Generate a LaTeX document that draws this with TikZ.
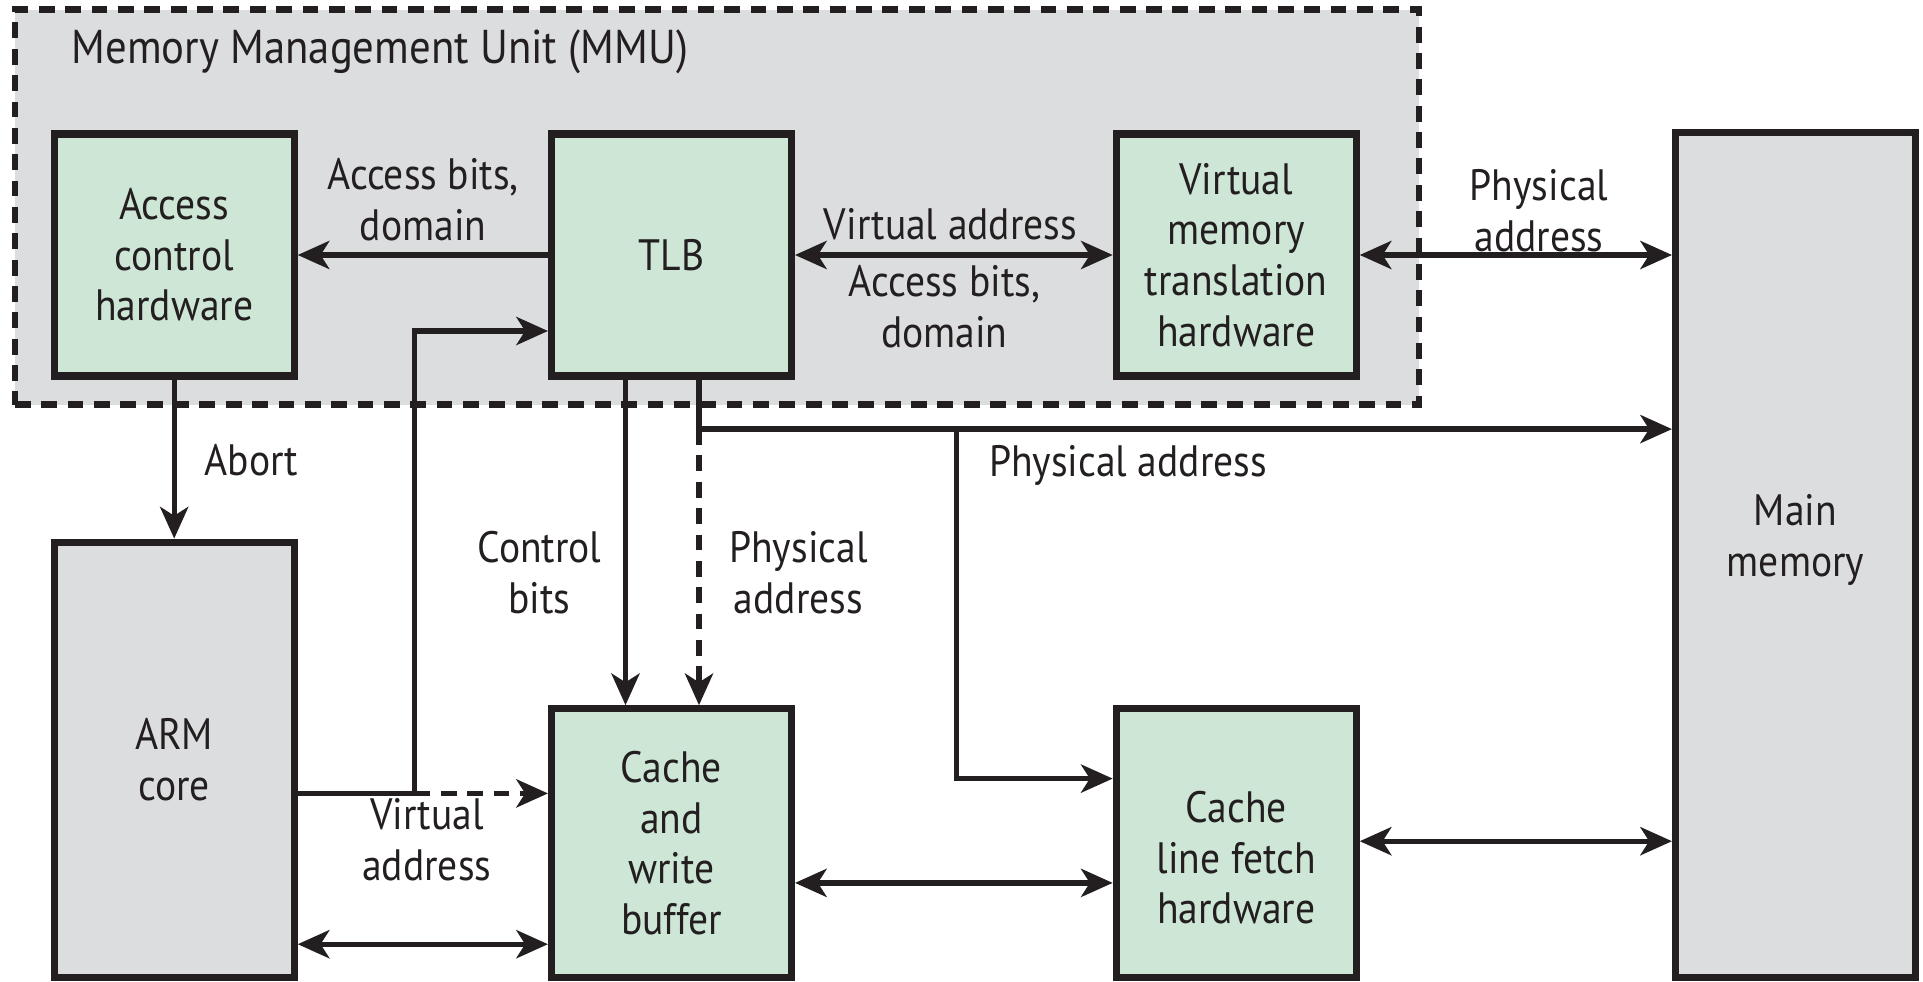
\documentclass[tikz,border=0pt]{standalone}
\usepackage{fontspec}
\setmainfont{PT Sans}[FakeStretch=0.9]
\usetikzlibrary{arrows.meta}
\definecolor{boxgreen}{RGB}{205,230,213}
\definecolor{boxgray}{RGB}{220,221,223}
\definecolor{ink}{RGB}{35,31,32}
\tikzset{
  hw/.style={draw=ink, line width=2pt, fill=boxgreen, align=center, text=ink,
    minimum width=2.4cm, minimum height=2.42cm, inner sep=2pt},
  store/.style={hw, fill=boxgray},
  lbl/.style={align=center, text=ink, inner sep=1pt},
  link/.style={draw=ink, line width=1.5pt},
  arr/.style={link, -{Stealth[length=9pt,width=8pt,inset=2.5pt]}},
  biarr/.style={link, {Stealth[length=9pt,width=8pt,inset=2.5pt]}-{Stealth[length=9pt,width=8pt,inset=2.5pt]}},
  dsh/.style={dash pattern=on 4.5pt off 3pt},
}
\begin{document}
\begin{tikzpicture}[font=\fontsize{12.5}{14.4}\selectfont]
        \useasboundingbox (0,0) rectangle (19.23,9.81);
        % MMU container
        \node[draw=ink, dsh, line width=1.8pt, fill=boxgray, minimum width=14.04cm, minimum height=3.95cm] (mmu) at (7.169,7.739) {};
        \node[lbl, anchor=west, font=\fontsize{13.5}{16}\selectfont] (mmutitle) at (0.675,9.296) {Memory Management Unit (MMU)};
        % Blocks
        \node[hw] (ach) at (1.742,7.26) {Access\\control\\hardware};
        \node[hw] (tlb) at (6.715,7.26) {TLB};
        \node[hw] (vmt) at (12.362,7.26) {Virtual\\memory\\translation\\hardware};
        \node[store, minimum height=8.45cm] (mem) at (17.955,4.262) {};
        \node[lbl] (memtext) at ([yshift=0.15cm]mem.center) {Main\\memory};
        \node[store, minimum height=4.35cm] (arm) at (1.742,2.214) {ARM\\core};
        \node[hw, minimum height=2.686cm] (cwb) at (6.715,1.38) {Cache\\and\\write\\buffer};
        \node[hw, minimum height=2.686cm] (clf) at (12.362,1.38) {};
        \node[lbl] (clftext) at ([yshift=-0.15cm]clf.center) {Cache\\line fetch\\hardware};
        % Junctions and levels
        \coordinate (vsplit) at (4.145,1.876);
        \coordinate (tin) at (4.145,6.5);
        \coordinate (cbx) at (6.255,5);
        \coordinate (pa) at (6.99,5.519);
        \coordinate (pb) at (9.566,5.519);
        \coordinate (clfin) at (9.566,2.024);
        \coordinate (lvA) at (0,0.981);
        \coordinate (lvB) at (0,1.398);
        \coordinate (lvC) at (0,0.368);
        % MMU connections
        \draw[arr] (tlb.west) -- (ach.east);
        \draw[biarr] (tlb.east) -- (vmt.west);
        \draw[biarr] (vmt.east) -- (vmt.east -| mem.west);
        \draw[arr] (ach.south) -- (arm.north);
        % ARM core to TLB and cache
        \draw[link] (arm.east |- vsplit) -- (vsplit);
        \draw[arr] (vsplit) |- (tlb.west |- tin);
        \draw[arr, dsh] (vsplit) -- (cwb.west |- vsplit);
        % TLB to cache and memory
        \draw[arr] (tlb.south -| cbx) -- (cwb.north -| cbx);
        \draw[link] (tlb.south -| pa) -- (pa);
        \draw[arr] (pa) -- (pa -| mem.west);
        \draw[arr, dsh] (pa) -- (cwb.north -| pa);
        \draw[arr] (pb) |- (clf.west |- clfin);
        % Data paths
        \draw[biarr] (cwb.east |- lvA) -- (clf.west |- lvA);
        \draw[biarr] (clf.east |- lvB) -- (mem.west |- lvB);
        \draw[biarr] (arm.east |- lvC) -- (cwb.west |- lvC);
        % Labels
        \node[lbl] (l1) at (4.231,7.812) {Access bits,\\domain};
        \node[lbl] (l2) at (9.505,7.567) {Virtual address};
        \node[lbl] (l3) at (9.443,6.745) {Access bits,\\domain};
        \node[lbl] (l4) at (15.39,7.70) {Physical\\address};
        \node[lbl] (l5) at (2.514,5.212) {Abort};
        \node[lbl] (l6) at (5.396,4.084) {Control\\bits};
        \node[lbl] (l7) at (7.984,4.084) {Physical\\address};
        \node[lbl, anchor=west] (l8) at (9.848,5.151) {Physical address};
        \node[lbl] (l9) at (4.268,1.410) {Virtual\\address};
    \end{tikzpicture}
\end{document}
